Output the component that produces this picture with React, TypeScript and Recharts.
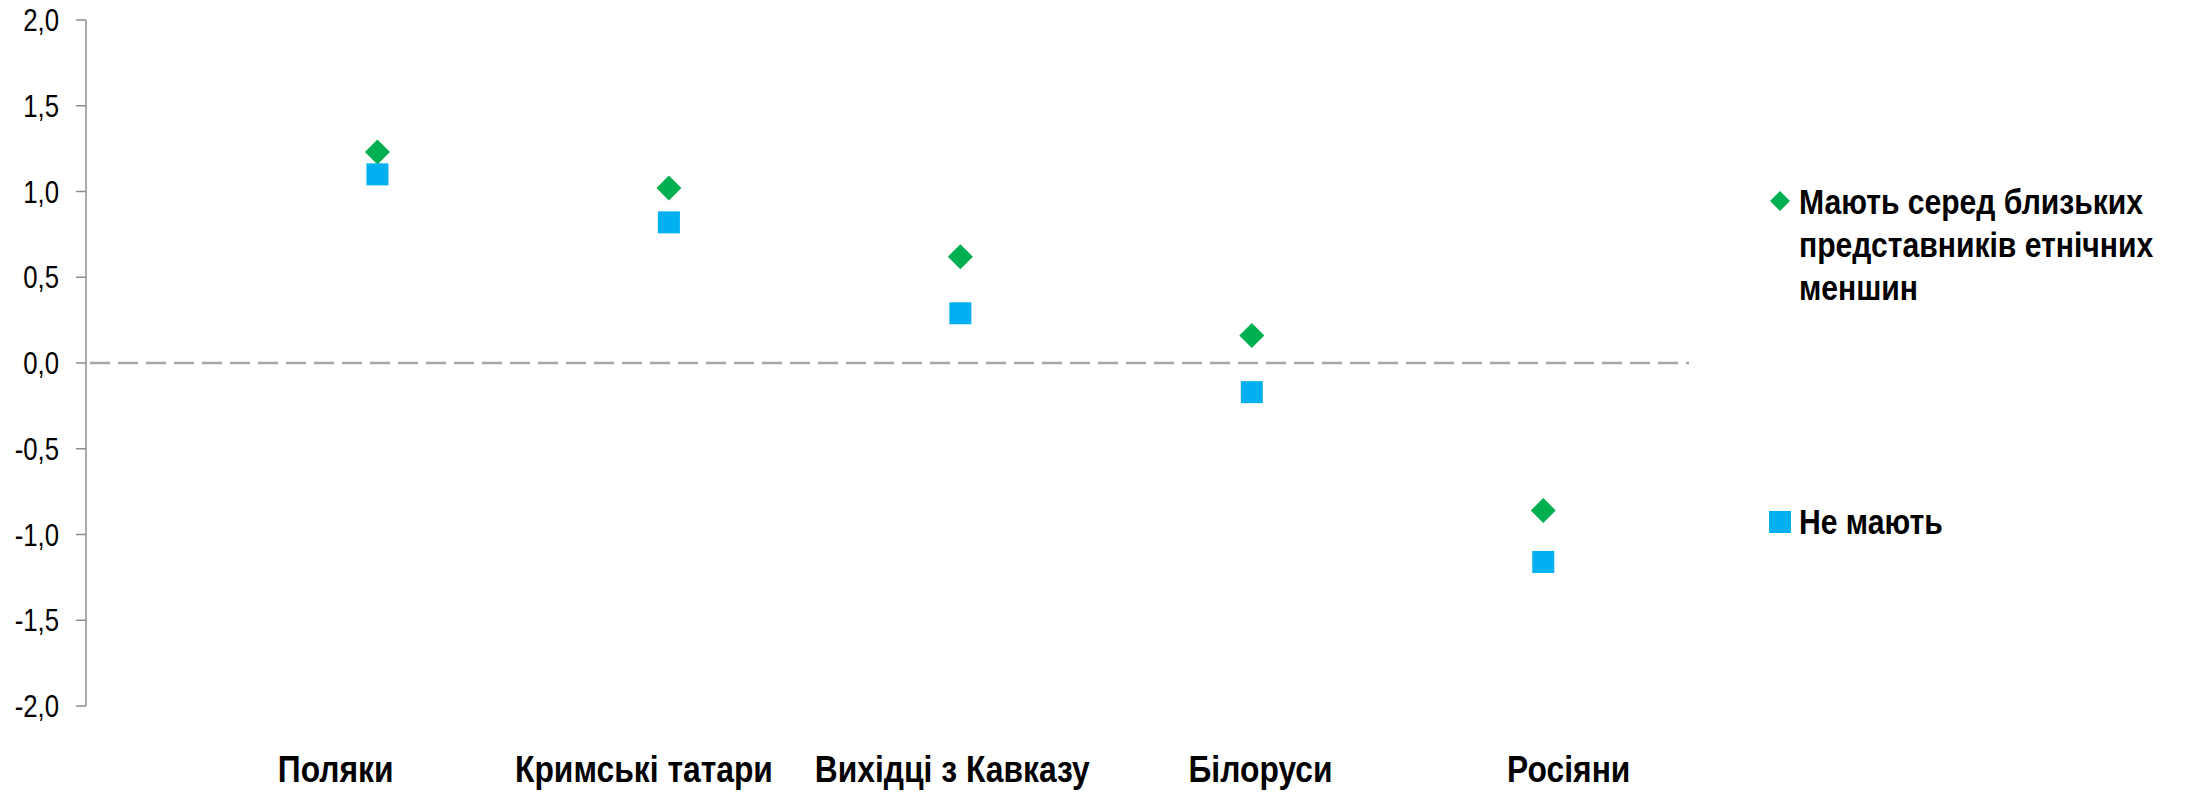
import React from 'react';
import { ScatterChart, Scatter, XAxis, YAxis, ReferenceLine, Legend } from 'recharts';

const categories = ['Поляки', 'Кримські татари', 'Вихідці з Кавказу', 'Білоруси', 'Росіяни'];
const withMinority = [1.23, 1.02, 0.62, 0.16, -0.86];
const withoutMinority = [1.10, 0.82, 0.29, -0.17, -1.16];
const yTicks = [-2, -1.5, -1, -0.5, 0, 0.5, 1, 1.5, 2];
const categoryTicks = [1, 2, 3, 4, 5];
const seriesNames = ['Мають серед близьких представників етнічних меншин', 'Не мають'];

const GREEN = '#00B050';
const BLUE = '#00B0F0';
const FONT = '"Liberation Sans", Arial, sans-serif';

const dataWith = categories.map((c, i) => ({ x: i + 1, y: withMinority[i], name: c }));
const dataWithout = categories.map((c, i) => ({ x: i + 1, y: withoutMinority[i], name: c }));
const labelRows = categories.map((c, i) => ({ lx: i + 1, name: c }));

const DiamondShape = (props: any) => {
  const { cx, cy } = props;
  const r = 12.5;
  return <polygon points={`${cx},${cy - r} ${cx + r},${cy} ${cx},${cy + r} ${cx - r},${cy}`} fill={GREEN} />;
};

const SquareShape = (props: any) => {
  const { cx, cy } = props;
  const s = 22;
  return <rect x={cx - s / 2} y={cy - s / 2} width={s} height={s} fill={BLUE} />;
};

const YTick = (props: any) => {
  const { x, y, payload } = props;
  return (
    <g transform={`translate(${x},${y}) scale(0.83,1)`}>
      <text x={0} y={0} dy="0.355em" textAnchor="end" fill="#000" fontSize={31} fontFamily={FONT}>
        {payload.value.toFixed(1).replace('.', ',')}
      </text>
    </g>
  );
};

const XLabelTick = (props: any) => {
  const { x, y, payload } = props;
  return (
    <g transform={`translate(${x},${y}) scale(0.86,1)`}>
      <text x={0} y={0} dy="0.71em" textAnchor="middle" fill="#000" fontSize={37} fontWeight="bold" fontFamily={FONT}>
        {categories[payload.value - 1] ?? ''}
      </text>
    </g>
  );
};

const LegendContent = (props: any) => {
  const payload = props.payload || [];
  return (
    <div style={{ fontFamily: FONT, fontWeight: 'bold', fontSize: 35, color: '#000', lineHeight: '43px' }}>
      {payload.map((p: any, i: number) => (
        <div key={i} style={{ display: 'flex', alignItems: 'flex-start', marginTop: i === 0 ? 0 : 191 }}>
          <svg width={30} height={43} style={{ flex: '0 0 auto' }}>
            {p.type === 'diamond' ? (
              <polygon points="11,11 21,21 11,31 1,21" fill={GREEN} />
            ) : (
              <rect x={0} y={11} width={22} height={22} fill={BLUE} />
            )}
          </svg>
          <div style={{ flex: '0 0 450px', width: 450, transform: 'scaleX(0.86)', transformOrigin: 'left top' }}>{p.value}</div>
        </div>
      ))}
    </div>
  );
};

export default function App() {
  return (
    <div style={{ position: 'absolute', left: 0, top: 0, width: 2192, height: 795, background: '#fff', overflow: 'hidden' }}>
      <ScatterChart width={2192} height={795} data={labelRows} margin={{ top: 20, left: 0, right: 503, bottom: 0 }}>
        <XAxis xAxisId="pts" type="number" dataKey="x" domain={[0, 5.5]} hide />
        <XAxis
          xAxisId="lbl"
          type="number"
          dataKey="lx"
          domain={[0.19, 5.39]}
          allowDataOverflow
          ticks={categoryTicks}
          interval={0}
          axisLine={false}
          tickLine={false}
          tickSize={0}
          tickMargin={50}
          height={89}
          tick={<XLabelTick />}
        />
        <YAxis
          type="number"
          dataKey="y"
          domain={[-2, 2]}
          ticks={yTicks}
          interval={0}
          width={86}
          tickSize={10}
          tickMargin={17}
          axisLine={{ stroke: '#8C8C8C', strokeWidth: 1.5 }}
          tickLine={{ stroke: '#8C8C8C', strokeWidth: 1.5 }}
          tick={<YTick />}
        />
        <ReferenceLine
          xAxisId="pts"
          y={0}
          stroke="#A6A6A6"
          strokeWidth={2.5}
          strokeDasharray="20 8"
          strokeDashoffset={-4}
        />
        <Legend
          layout="vertical"
          verticalAlign="middle"
          align="center"
          content={<LegendContent />}
          wrapperStyle={{ position: 'absolute', left: 1769, top: 180, width: 500 }}
        />
        <Scatter
          xAxisId="pts"
          name={seriesNames[0]}
          data={dataWith}
          legendType="diamond"
          fill={GREEN}
          shape={<DiamondShape />}
          isAnimationActive={false}
        />
        <Scatter
          xAxisId="pts"
          name={seriesNames[1]}
          data={dataWithout}
          legendType="square"
          fill={BLUE}
          shape={<SquareShape />}
          isAnimationActive={false}
        />
      </ScatterChart>
    </div>
  );
}
